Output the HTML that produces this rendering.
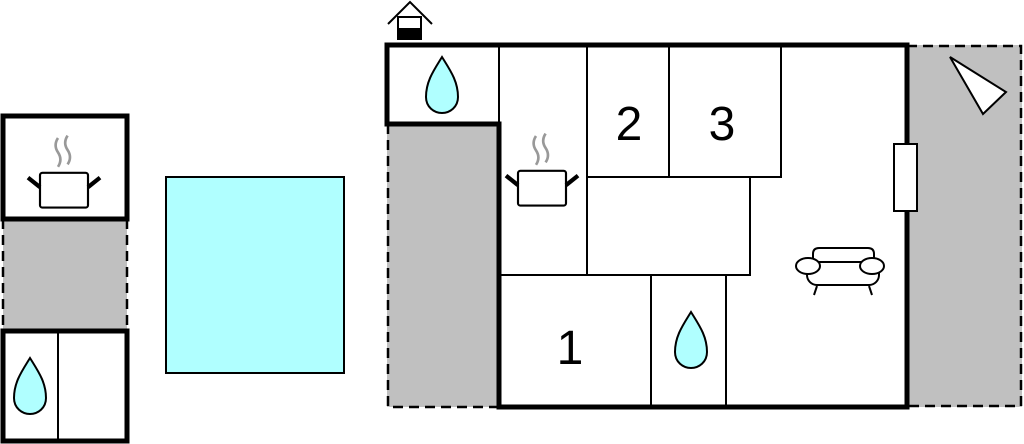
<!DOCTYPE html>
<html><head><style>body{margin:0;background:#fff}svg{display:block}</style></head><body>
<svg width="1024" height="444" viewBox="0 0 1024 444" xmlns="http://www.w3.org/2000/svg">
<defs>
<g id="drop"><path d="M0,-32 C8,-19 16,-8 16,8 C16,18 8,24 0,24 C-8,24 -16,18 -16,8 C-16,-8 -8,-19 0,-32 Z" fill="#b0ffff" stroke="#000" stroke-width="2"/></g>
<g id="pot">
<path d="M-5,-45 q-4,6 0,12 q4,6 0,12 M3,-47 q-4,6 0,12 q4,6 0,12" fill="none" stroke="#999" stroke-width="2.2"/>
<rect x="-20" y="-16" width="40" height="29" rx="2" fill="#fff" stroke="#000" stroke-width="1.8"/>
<path d="M-20,-4 L-30,-12 M20,-4 L30,-12" stroke="#000" stroke-width="3.5"/>
</g>
</defs>
<rect x="387" y="124" width="112" height="283" fill="#c0c0c0"/>
<rect x="907" y="45" width="115" height="362" fill="#c0c0c0"/>
<rect x="3" y="219" width="124" height="112" fill="#c0c0c0"/>
<g stroke="#000" stroke-width="2.5" stroke-dasharray="10,6" fill="none">
<path d="M388,124 V407 H499"/>
<path d="M907,46 H1021 V406 H907"/>
<path d="M3,219 V331 M127,219 V331"/>
</g>
<g stroke="#000" stroke-width="2" fill="none">
<path d="M499,45 V124 M587,45 V275 M669,45 V177 M781,45 V177 H587 M750,177 V275 H499 M651,275 V407 M726,275 V407"/>
</g>
<g stroke="#000" stroke-width="5" fill="none">
<path d="M387,45 H907 V407 H499 V124 H387 Z"/>
<rect x="3" y="116" width="124" height="103"/>
<rect x="3" y="331" width="124" height="110"/>
</g>
<path d="M58,331 V441" stroke="#000" stroke-width="2"/>
<rect x="166" y="177" width="178" height="196" fill="#b0ffff" stroke="#000" stroke-width="2"/>
<rect x="894" y="144" width="23" height="67" fill="#fff" stroke="#000" stroke-width="2"/>
<path d="M950,57 L1006,92 L983,114 Z" fill="#fff" stroke="#000" stroke-width="2"/>
<g fill="#fff" stroke="#000" stroke-width="2">
<path d="M813,263 V254 q0,-6 6,-6 h49 q6,0 6,6 V263"/>
<rect x="807" y="262" width="72" height="23" rx="10"/>
<path d="M817,286 l-3,9 M869,286 l3,9"/>
<ellipse cx="808" cy="266" rx="12" ry="8"/>
<ellipse cx="872" cy="266" rx="12" ry="8"/>
</g>
<g stroke="#000" fill="none" stroke-width="2">
<path d="M388,24 L410,2 L432,24"/>
<rect x="398" y="17" width="23" height="22" fill="#fff"/>
</g>
<rect x="397" y="28" width="25" height="12" fill="#000"/>
<use href="#drop" x="442" y="89"/>
<use href="#drop" x="691" y="344"/>
<use href="#drop" x="30" y="390"/>
<g transform="translate(542,190) scale(1.2)"><use href="#pot"/></g>
<g transform="translate(64,192) scale(1.2)"><use href="#pot"/></g>
<g font-family="Liberation Sans, sans-serif" font-size="48" text-anchor="middle" fill="#000">
<text x="629" y="140">2</text>
<text x="722" y="140">3</text>
<text x="570" y="364">1</text>
</g>
</svg>
</body></html>
